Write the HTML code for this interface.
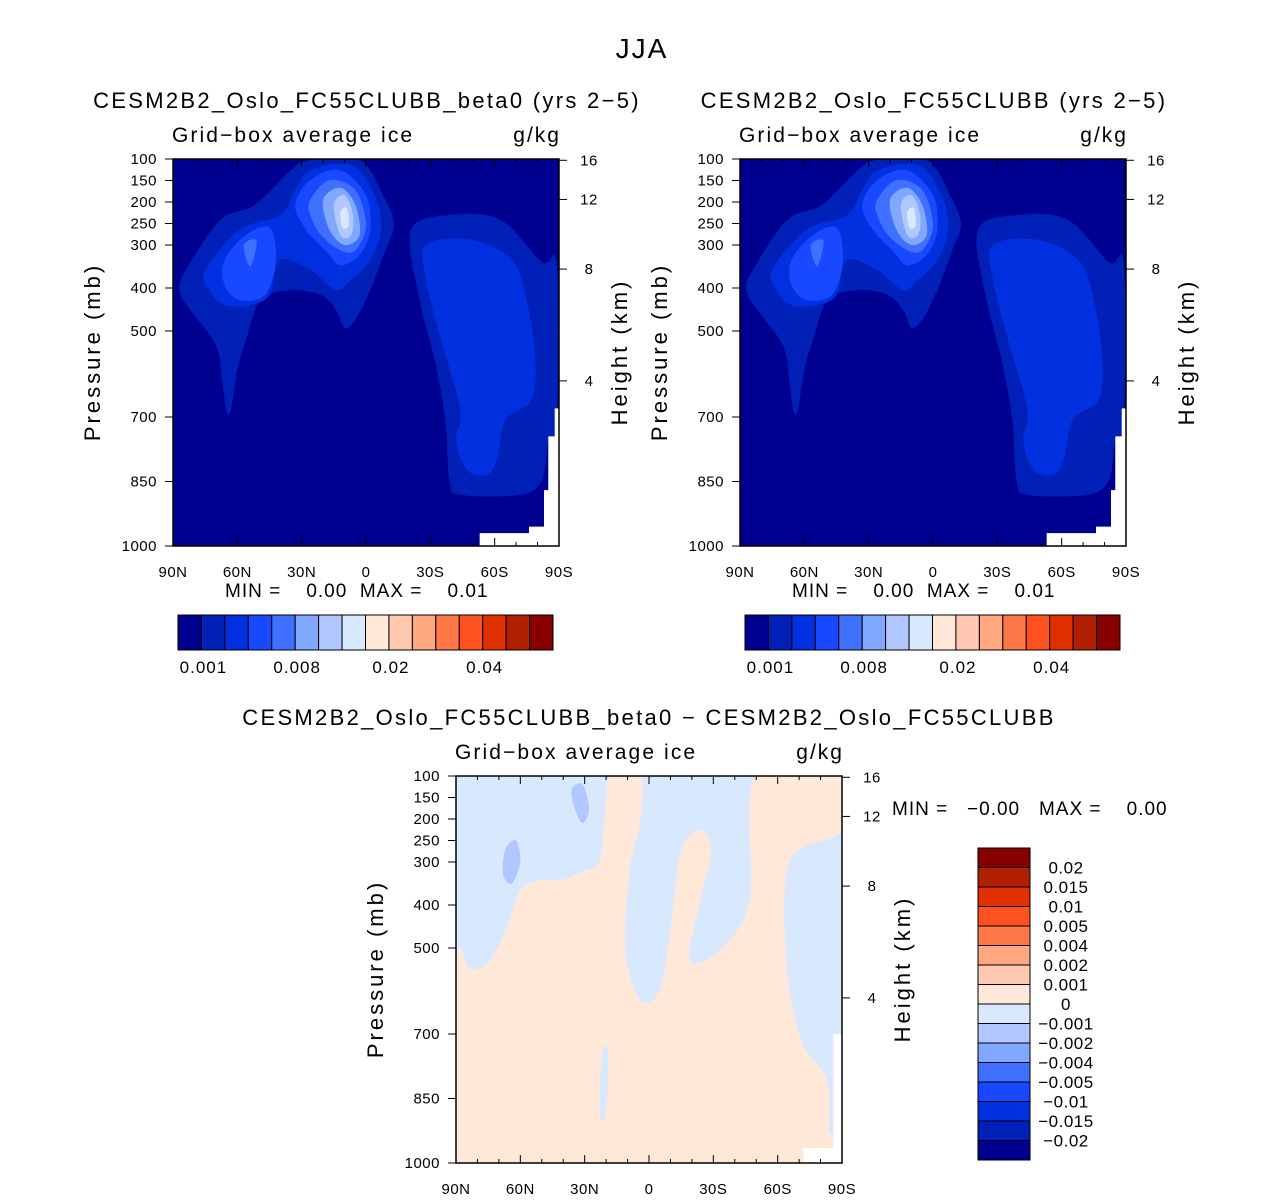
<!DOCTYPE html>
<html><head><meta charset="utf-8"><style>
body{margin:0;background:#fff;}
svg{display:block;font-family:"Liberation Sans",sans-serif;}
text{white-space:pre;}
</style></head><body>
<svg id="fig" width="1285" height="1200" viewBox="0 0 1285 1200" xmlns="http://www.w3.org/2000/svg">
<text x="642" y="58" font-size="28" letter-spacing="2" text-anchor="middle">JJA</text>
</svg>
<script>
// ---- data ----
const absColors=["#000090","#0020b8","#0030e0","#1848ff","#4070ff","#80a8ff","#b0c8ff","#d8e8ff","#ffe8d8","#ffc8b0","#ffa880","#ff7848","#ff5020","#e03000","#b02000","#880000"];
const absLabels=["0.001","0.008","0.02","0.04"];
const diffLabels=["0.02","0.015","0.01","0.005","0.004","0.002","0.001","0","-0.001","-0.002","-0.004","-0.005","-0.01","-0.015","-0.02"];
const latTicks=[90,60,30,0,-30,-60,-90];
const latTickLabels=["90N","60N","30N","0","30S","60S","90S"];
const presTicks=[100,150,200,250,300,400,500,700,850,1000];
const heightTicks=[16,12,8,4];
const heightPres=[103,194,356,616];
// contour regions: [level, lats, pressures]
const lvl1L_lat=[84,68,52,35,26,3,-9,-13,-9,-2,5,10,14,21,35,49,56,60,63,65,67,70,82,87];
const lvl1L_p=[358,242,207,126,102,102,195,254,312,405,474,493,451,416,405,428,521,591,684,688,614,533,451,405];
const lvl1R_lat=[-21,-25,-32,-37,-39,-44,-72,-82,-85,-89,-89,-82,-63,-40];
const lvl1R_p=[265,428,567,707,847,881,881,847,754,707,347,340,242,230];
const lvl2L_lat=[75,59,40,33,26,7,-4,-7,-2,7,14,26,40,45,54,66,73];
const lvl2L_p=[358,265,230,172,126,114,184,265,335,381,405,358,335,416,440,440,405];
const lvl2R_lat=[-28,-49,-68,-75,-79,-77,-65,-61,-56,-47,-42,-44,-35,-28];
const lvl2R_p=[300,288,335,428,567,661,707,800,835,823,754,684,521,381];
const lvl3A_lat=[66,56,45,42,47,59,66];
const lvl3A_p=[335,277,260,335,416,428,393];
const lvl3B_lat=[33,26,12,0,-2,3,12,19,28];
const lvl3B_p=[207,149,126,184,265,323,347,312,265];
const lvl4A_lat=[26,17,5,0,5,12,21,26];
const lvl4A_p=[195,149,172,254,312,312,277,230];
const lvl4B_lat=[57,51,54];
const lvl4B_p=[300,290,350];
const lvl5_lat=[20,12,5,3,10,17];
const lvl5_p=[195,167,207,277,300,265];
const lvl6_lat=[15,10,6,7,12];
const lvl6_p=[207,184,230,277,277];
const lvl7_lat=[12,9,8,11];
const lvl7_p=[223,214,254,260];
const mask_lat=[-90,-88,-88,-85,-85,-83,-83,-76,-76,-53,-53,-90];
const mask_p=[680,680,745,745,870,870,955,955,970,970,1000,1000];
const diffPos_lat=[90,83,74,65,60,51,41,30,23,20,18,4,4,9,11,4,-5,-10,-15,-24,-29,-24,-19,-33,-47,-50,-90,-90,-66,-64,-71,-83,-84,-84,90];
const diffPos_p=[528,551,528,435,365,342,342,319,295,156,100,100,202,319,505,621,598,458,272,226,272,388,528,505,388,100,100,226,295,528,714,807,923,1000,1000];
const diffNeg1_lat=[36,31,28,31,35];
const diffNeg1_p=[130,120,175,210,170];
const diffNeg2_lat=[67,62,60,64,68];
const diffNeg2_p=[270,250,300,350,330];
const diffNeg3_lat=[22,19,20,23];
const diffNeg3_p=[750,740,880,890];
const diffMask_lat=[-90,-86,-86,-72,-72,-90];
const diffMask_p=[700,700,965,965,1000,1000];

const NS="http://www.w3.org/2000/svg";
const svg=document.getElementById('fig');
function mk(tag,attrs,parent){const e=document.createElementNS(NS,tag);for(const k in attrs)e.setAttribute(k,attrs[k]);(parent||svg).appendChild(e);return e;}
function txt(x,y,s,size,anchor,parent,ls){const t=mk('text',{x:x,y:y,'font-size':size,'text-anchor':anchor||'start','letter-spacing':ls===undefined?1:ls},parent);t.textContent=s.replace(/-/g,'\u2212');return t;}

function smoothPath(pts){
  const n=pts.length;let d=`M${pts[0][0]},${pts[0][1]}`;
  for(let i=0;i<n;i++){const p0=pts[(i-1+n)%n],p1=pts[i],p2=pts[(i+1)%n],p3=pts[(i+2)%n];
    const c1=[p1[0]+(p2[0]-p0[0])/6,p1[1]+(p2[1]-p0[1])/6],c2=[p2[0]-(p3[0]-p1[0])/6,p2[1]-(p3[1]-p1[1])/6];
    d+=`C${c1[0]},${c1[1]} ${c2[0]},${c2[1]} ${p2[0]},${p2[1]}`;}
  return d+'Z';
}

function panel(x0,y0,title,titleDx,regions,mask,bg,name){
  const W=386,H=387;
  const xs=lat=>x0+(90-lat)/180*W;
  const ys=p=>y0+(p-100)/900*H;
  const g=mk('g',{});
  
  
  const cid='clip'+name;
  const cp=mk('clipPath',{id:cid},g);mk('rect',{x:x0,y:y0,width:W,height:H},cp);
  const r=mk('rect',{x:x0,y:y0,width:W,height:H,fill:bg},g);
  
  
  const cg=mk('g',{'clip-path':`url(#${cid})`},g);
  regions.forEach(([col,la,pr])=>{
    const pts=la.map((l,i)=>[+xs(l).toFixed(1),+ys(pr[i]).toFixed(1)]);
    const p=mk('path',{d:smoothPath(pts),fill:col},cg);
    
    
  });
  if(mask){const pts=mask[0].map((l,i)=>xs(l)+','+ys(mask[1][i])).join(' ');
    const m=mk('polygon',{points:pts,fill:'#fff'},cg);
    
    }
  mk('rect',{x:x0,y:y0,width:W,height:H,fill:'none',stroke:'#000','stroke-width':1.5},g);
  for(let l=90;l>=-90;l-=10){const x=xs(l),major=l%30===0;const len=major?8:4;
    mk('line',{x1:x,y1:y0+H,x2:x,y2:y0+H-len,stroke:'#000'},g);mk('line',{x1:x,y1:y0,x2:x,y2:y0+len,stroke:'#000'},g);}
  latTicks.forEach((l,i)=>{const t=txt(xs(l),y0+H+31,latTickLabels[i],15,'middle',g,0.5);
    });
  presTicks.forEach(p=>{const y=ys(p);mk('line',{x1:x0-8,y1:y,x2:x0,y2:y,stroke:'#000'},g);
    const t=txt(x0-16,y+5,String(p),15,'end',g,0.5);
    });
  heightTicks.forEach((h,i)=>{const y=ys(heightPres[i]);mk('line',{x1:x0+W,y1:y,x2:x0+W+8,y2:y,stroke:'#000'},g);
    const t=txt(x0+W+30,y+5,String(h),15,'middle',g,0.5);
    });
  const yl=txt(0,0,'Pressure (mb)',22,'middle',g,3);yl.setAttribute('transform',`translate(${x0-73},${y0+193}) rotate(-90)`);
  
  const hl=txt(0,0,'Height (km)',22,'middle',g,3);hl.setAttribute('transform',`translate(${x0+W+68},${y0+193}) rotate(-90)`);
  
  const st=txt(x0-1,y0-17,'Grid-box average ice',21,'start',g,2.1);
  
  const un=txt(x0+W+2,y0-17,'g/kg',21,'end',g,2);
  
  const tt=txt(x0+W/2-7+titleDx,y0-51,title,22,'middle',g,2.3);
  
  return g;
}
const absRegions=[
 [absColors[1],lvl1L_lat,lvl1L_p],[absColors[1],lvl1R_lat,lvl1R_p],
 [absColors[2],lvl2L_lat,lvl2L_p],[absColors[2],lvl2R_lat,lvl2R_p],
 [absColors[3],lvl3A_lat,lvl3A_p],[absColors[3],lvl3B_lat,lvl3B_p],
 [absColors[4],lvl4A_lat,lvl4A_p],[absColors[4],lvl4B_lat,lvl4B_p],
 [absColors[5],lvl5_lat,lvl5_p],[absColors[6],lvl6_lat,lvl6_p],[absColors[7],lvl7_lat,lvl7_p]];
panel(173,159,'CESM2B2_Oslo_FC55CLUBB_beta0 (yrs 2-5)',8,absRegions,[mask_lat,mask_p],absColors[0],'panel-beta0');
panel(740,159,'CESM2B2_Oslo_FC55CLUBB (yrs 2-5)',8,absRegions,[mask_lat,mask_p],absColors[0],'panel-control');
panel(456,776,'CESM2B2_Oslo_FC55CLUBB_beta0 - CESM2B2_Oslo_FC55CLUBB',7,
  [[absColors[8],diffPos_lat,diffPos_p],[absColors[6],diffNeg1_lat,diffNeg1_p],[absColors[6],diffNeg2_lat,diffNeg2_p],[absColors[7],diffNeg3_lat,diffNeg3_p]],
  [diffMask_lat,diffMask_p],absColors[7],'panel-difference');

function minmax(x,y,s,name){const t=mk('text',{x:x,y:y,'font-size':19,'letter-spacing':1});t.textContent=s;
  }
minmax(225,597,'MIN =    0.00  MAX =    0.01','min-max-label');
minmax(792,597,'MIN =    0.00  MAX =    0.01','min-max-label');
minmax(892,815,'MIN =   \u22120.00   MAX =    0.00','min-max-label');

function hbar(x0,name){const g=mk('g',{});
  const w=375/16;absColors.forEach((c,i)=>{const r=mk('rect',{x:x0+i*w,y:615,width:w,height:35,fill:c,stroke:'#000','stroke-width':1},g);
    });
  absLabels.forEach((s,i)=>{const t=txt(x0+w*(1+4*i)+2,673,s,17,'middle',g,1);});}
hbar(178,'colorbar-beta0');hbar(745,'colorbar-control');
(function(){const g=mk('g',{});
  const h=312/16;for(let i=0;i<16;i++){const r=mk('rect',{x:978,y:848+i*h,width:52,height:h,fill:absColors[15-i],stroke:'#000'},g);
    }
  diffLabels.forEach((s,i)=>{const t=txt(1066,848+h*(i+1)+6,s,17,'middle',g,0.5);});})();
</script>
</body></html>
